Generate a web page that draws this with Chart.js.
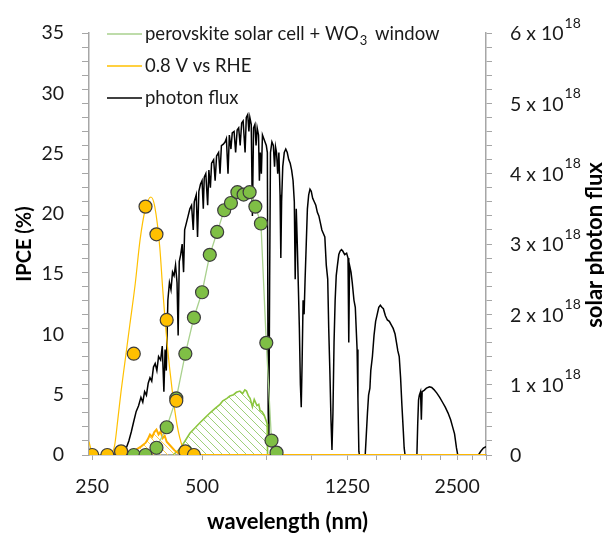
<!DOCTYPE html>
<html>
<head>
<meta charset="utf-8">
<script src="https://cdn.jsdelivr.net/npm/chart.js@4.4.1/dist/chart.umd.min.js"></script>
<style>
  html, body { margin: 0; padding: 0; background: #fff; }
  #wrap { width: 604px; height: 535px; }
</style>
</head>
<body>
<div id="wrap"><canvas id="chart" width="604" height="535"></canvas></div>
<script>
// x axis (nm, log scale)
const xTickValues = [250, 500, 750, 1000, 1250, 1500, 1750, 2000, 2250, 2500, 2750, 3000];
const xLabelValues = [250, 500, 1250, 2500];
const ipceTickLabels = [0, 5, 10, 15, 20, 25, 30, 35];
const fluxTickLabels = [0, 1, 2, 3, 4, 5, 6];

// perovskite solar cell + WO3 window (IPCE %)
const pvWavelengths = [300, 325, 350, 375, 400, 425, 450, 475, 500, 525, 550, 575, 600, 625, 650, 675, 700, 725, 750, 775, 800];
const pvIPCE = [0, 0, 0, 0.6, 2.3, 4.7, 8.4, 11.4, 13.5, 16.6, 18.5, 20.3, 20.9, 21.8, 21.6, 21.8, 20.6, 19.2, 9.3, 1.2, 0.2];

// 0.8 V vs RHE (IPCE %) measured points
const rheWavelengths = [250, 275, 300, 325, 350, 375, 400, 425, 450, 475];
const rheIPCE = [0, 0, 0.3, 8.4, 20.6, 18.3, 11.2, 4.5, 0.3, 0];

// 0.8 V vs RHE smooth curve
const rheFitWavelengths = [245, 250, 258, 280, 288, 294, 300, 307, 317, 328, 338, 349, 362, 371, 383, 390, 401, 414, 427, 443, 460, 3000];
const rheFitIPCE = [1.1, 0.2, 0, 0, 0.8, 3.0, 5.3, 7.6, 10.8, 14.2, 17.8, 20.3, 21.4, 20.6, 17.2, 13.8, 9.3, 5.4, 2.5, 0.6, 0, 0];

// hatched areas (IPCE x flux, left axis units)
const pvAreaWavelengths = [416, 435, 450, 463, 480, 494, 510, 526, 545, 560, 570, 585, 596, 610, 621, 635, 646, 655, 662, 670, 677, 687, 695, 707, 715, 721, 730, 740, 750, 754, 756];
const pvArea = [0, 0.5, 1.2, 1.8, 2.3, 2.7, 3.1, 3.5, 3.9, 4.2, 4.5, 4.7, 4.9, 5.0, 5.2, 5.3, 5.1, 5.4, 5.3, 4.9, 4.7, 4.0, 4.6, 4.1, 4.2, 3.7, 3.6, 3.3, 2.8, 2.6, 0];
const rheAreaWavelengths = [300, 310, 320, 330, 340, 350, 355, 360, 365, 370, 375, 380, 385, 390, 395, 400, 410, 420, 430, 440, 450, 3000];
const rheArea = [0, 0.05, 0.25, 0.45, 0.7, 1.0, 1.3, 1.7, 1.5, 1.9, 2.1, 1.7, 1.95, 1.4, 1.6, 1.1, 0.75, 0.4, 0.15, 0.05, 0, 0];

// photon flux (x 10^18)
const fluxWavelengths = [300, 305, 310, 315, 320, 325, 330, 335, 340, 344, 348, 352, 356, 360, 364, 368, 372, 376, 380, 385, 389, 393, 396, 399,
  403, 407, 411, 415, 419, 423, 427, 430, 433, 437, 441, 445, 448, 453, 458, 463, 468, 473, 476, 482, 486, 490, 495, 500, 504, 507, 512, 518,
  522, 527, 531, 538, 543, 548, 555, 560, 565, 572, 578, 583, 589, 594, 600, 605, 612, 618, 624, 630, 636, 642, 648, 656, 661, 667, 672, 676,
  682, 687, 692, 698, 703, 708, 714, 718, 722, 727, 732, 738, 744, 750, 755, 759, 762, 766, 770, 777, 784, 790, 795, 800, 806, 812, 818, 822,
  826, 832, 840, 848, 856, 864, 872, 880, 888, 895, 900, 906, 912, 918, 924, 930, 935, 940, 946, 952, 958, 965, 972, 980, 988, 996, 1005,
  1015, 1025, 1035, 1045, 1055, 1065, 1075, 1085, 1095, 1105, 1112, 1120, 1128, 1135, 1142, 1150, 1158, 1166, 1175, 1185, 1195, 1205, 1215,
  1230, 1245, 1256, 1262, 1268, 1280, 1290, 1304, 1315, 1330, 1337, 1345, 1350, 1400, 1410, 1420, 1430, 1442, 1450, 1465, 1480, 1495, 1510,
  1525, 1540, 1555, 1570, 1590, 1610, 1630, 1650, 1670, 1690, 1705, 1720, 1735, 1750, 1765, 1780, 1790, 1800, 1940, 1950, 1960, 1970, 1985,
  1995, 2005, 2030, 2060, 2100, 2130, 2160, 2200, 2240, 2280, 2320, 2360, 2400, 2430, 2460, 2490, 2510, 2860, 2900, 2950, 3000];
const photonFlux = [0, 0.03, 0.1, 0.2, 0.33, 0.48, 0.62, 0.7, 0.82, 0.75, 0.9, 0.85, 1.02, 1.1, 1.05, 1.25, 1.3, 1.2, 1.4, 1.35, 1.55, 0.9, 1.5, 1.2,
  2.2, 2.45, 2.35, 2.6, 2.55, 2.7, 2.45, 1.7, 2.75, 2.85, 3.0, 2.6, 3.2, 3.3, 3.4, 3.5, 3.55, 3.2, 3.6, 3.7, 3.1, 3.75, 3.85, 3.9, 3.5, 3.95, 4.0, 3.55,
  4.05, 3.8, 4.15, 4.2, 3.9, 4.25, 4.3, 4.0, 4.4, 4.42, 4.45, 4.5, 4.0, 4.55, 4.35, 4.58, 4.6, 4.3, 4.62, 4.65, 4.4, 4.72, 4.75, 4.3, 4.8, 4.84, 4.6, 4.8,
  4.7, 3.4, 4.65, 4.7, 4.4, 4.65, 4.55, 3.9, 4.3, 4.0, 4.55, 4.5, 4.45, 4.4, 4.3, 0.6, 0.25, 2.5, 4.3, 4.45, 4.4, 4.1, 4.38, 4.3, 4.0, 4.3, 3.7, 2.8,
  3.6, 4.1, 4.3, 4.35, 4.3, 4.2, 4.15, 4.05, 3.9, 3.6, 2.5, 3.5, 3.0, 2.4, 1.8, 1.0, 0.68, 1.3, 2.2, 2.0, 2.5, 3.0, 3.5, 3.7, 3.78, 3.75, 3.65,
  3.6, 3.55, 3.45, 3.4, 3.3, 3.2, 3.15, 3.1, 2.7, 2.5, 1.8, 1.2, 0.5, 0.07, 0.6, 1.6, 2.2, 2.55, 2.7, 2.85, 2.9, 2.92, 2.9,
  2.85, 2.87, 2.8, 1.6, 2.7, 2.6, 2.45, 2.2, 2.1, 1.5, 0.8, 0.05, 0, 0, 0.3, 0.6, 0.85, 0.95, 1.2, 1.4, 1.7, 1.9, 2.0,
  2.1, 2.13, 2.1, 2.08, 1.98, 1.92, 1.9, 1.85, 1.8, 1.72, 1.6, 1.48, 1.4, 1.1, 0.7, 0.35, 0.1, 0, 0, 0.45, 0.78, 0.85, 0.9,
  0.5, 0.9, 0.92, 0.95, 0.97, 0.96, 0.93, 0.88, 0.82, 0.75, 0.68, 0.6, 0.5, 0.4, 0.3, 0.1, 0, 0, 0.05, 0.1, 0.12];

const pts = (xs, ys) => xs.map((x, i) => ({ x: x, y: ys[i] }));
const near = (a, b) => Math.abs(a - b) < 1e-6;
const isIpceLabel = v => ipceTickLabels.some(l => near(l, v));
const isIpceMark = v => near(v * 30 / 35, Math.round(v * 30 / 35));

const canvas = document.getElementById('chart');
const mainCtx = canvas.getContext('2d');

function hatch(color, size) {
  const c = document.createElement('canvas');
  c.width = size; c.height = size;
  const g = c.getContext('2d');
  g.strokeStyle = color;
  g.lineWidth = 1;
  g.beginPath();
  g.moveTo(-1, -1); g.lineTo(size + 1, size + 1);
  g.moveTo(-1, size - 1); g.lineTo(1, size + 1);
  g.moveTo(size - 1, -1); g.lineTo(size + 1, 1);
  g.stroke();
  return mainCtx.createPattern(c, 'repeat');
}

const textColor = '#1a1a1a';
const axisColor = '#a6a6a6';

// legend, right axis labels with superscripts and right title
const extras = {
  id: 'extras',
  afterDraw(chart) {
    const ctx = chart.ctx;
    const y2 = chart.scales.y2;
    ctx.save();
    ctx.textBaseline = 'middle';
    ctx.textAlign = 'left';
    ctx.fillStyle = textColor;
    fluxTickLabels.forEach(v => {
      const py = y2.getPixelForValue(v);
      ctx.font = '19.5px Lato';
      if (v === 0) {
        ctx.fillText('0', 510, py + 1);
        return;
      }
      const base = v + ' x 10';
      ctx.fillText(base, 510, py + 1);
      const w = ctx.measureText(base).width;
      ctx.font = '14px Lato';
      ctx.fillText('18', 510 + w + 1, py - 10);
    });

    // right axis title
    ctx.save();
    ctx.translate(595, 245);
    ctx.rotate(-Math.PI / 2);
    ctx.textAlign = 'center';
    ctx.font = 'bold 22px Lato';
    ctx.fillStyle = '#000';
    ctx.fillText('solar photon flux', 0, 0);
    ctx.restore();

    // legend
    const rows = [
      { color: '#a9d18e', y: 34 },
      { color: '#ffc000', y: 66 },
      { color: '#000000', y: 98 }
    ];
    rows.forEach(r => {
      ctx.strokeStyle = r.color;
      ctx.lineWidth = 1.5;
      ctx.beginPath();
      ctx.moveTo(107, r.y);
      ctx.lineTo(142, r.y);
      ctx.stroke();
    });
    ctx.fillStyle = textColor;
    ctx.font = '18.5px Lato';
    const t = 'perovskite solar cell + WO';
    ctx.fillText(t, 145, 34);
    let x = 145 + ctx.measureText(t).width + 1;
    ctx.font = '13px Lato';
    ctx.fillText('3', x, 41);
    x += ctx.measureText('3').width;
    ctx.font = '18.5px Lato';
    ctx.fillText(' window', x + 3, 34);
    ctx.fillText('0.8 V vs RHE', 145, 66);
    ctx.fillText('photon flux', 145, 98);
    ctx.restore();
  }
};

Chart.defaults.font.family = 'Lato';

new Chart(canvas, {
  type: 'line',
  data: {
    datasets: [
      {
        label: '0.8 V vs RHE points',
        data: pts(rheWavelengths, rheIPCE),
        showLine: false,
        pointRadius: 6.5,
        pointBackgroundColor: '#ffc000',
        pointBorderColor: '#3c3c3c',
        pointBorderWidth: 1.2,
        yAxisID: 'y',
        order: 0
      },
      {
        label: 'perovskite solar cell + WO3 window',
        data: pts(pvWavelengths, pvIPCE),
        borderColor: '#a9d18e',
        borderWidth: 1.3,
        pointRadius: 6.5,
        pointBackgroundColor: '#7fbf45',
        pointBorderColor: '#3c3c3c',
        pointBorderWidth: 1.2,
        yAxisID: 'y',
        order: 1
      },
      {
        label: '0.8 V vs RHE',
        data: pts(rheFitWavelengths, rheFitIPCE),
        borderColor: '#ffc000',
        borderWidth: 1.2,
        pointRadius: 0,
        cubicInterpolationMode: 'monotone',
        yAxisID: 'y',
        order: 2
      },
      {
        label: 'rhe area',
        data: pts(rheAreaWavelengths, rheArea),
        borderColor: '#ffb000',
        borderWidth: 2,
        pointRadius: 0,
        fill: 'origin',
        backgroundColor: hatch('#ffd24d', 7),
        yAxisID: 'y',
        order: 3
      },
      {
        label: 'pv area',
        data: pts(pvAreaWavelengths, pvArea),
        borderColor: '#8cc63f',
        borderWidth: 1.6,
        pointRadius: 0,
        fill: 'origin',
        backgroundColor: hatch('#9fd07a', 8),
        yAxisID: 'y',
        order: 4
      },
      {
        label: 'photon flux',
        data: pts(fluxWavelengths, photonFlux),
        borderColor: '#000000',
        borderWidth: 1.5,
        pointRadius: 0,
        yAxisID: 'y2',
        order: 5
      }
    ]
  },
  options: {
    responsive: false,
    animation: false,
    events: [],
    layout: { padding: { top: 33, left: 0, right: 0, bottom: 0 } },
    plugins: { legend: { display: false }, tooltip: { enabled: false } },
    scales: {
      x: {
        type: 'logarithmic',
        min: 245,
        max: 3000,
        afterBuildTicks: s => { s.ticks = xTickValues.map(v => ({ value: v })); },
        afterFit: s => { s.height = 80; },
        ticks: {
          callback: v => xLabelValues.includes(v) ? String(v) : '',
          autoSkip: false,
          maxRotation: 0,
          font: { size: 19.5 },
          color: textColor,
          padding: 15
        },
        grid: { drawOnChartArea: false, tickLength: 5, color: axisColor },
        border: { color: axisColor, width: 1.5 },
        title: {
          display: true,
          text: 'wavelength (nm)',
          font: { size: 22, weight: 'bold' },
          color: '#000',
          padding: { top: 0, bottom: 0 }
        }
      },
      y: {
        position: 'left',
        min: 0,
        max: 35,
        afterBuildTicks: s => {
          const vals = [];
          for (let i = 0; i <= 30; i++) vals.push(i * 35 / 30);
          ipceTickLabels.forEach(v => { if (!vals.some(u => near(u, v))) vals.push(v); });
          vals.sort((a, b) => a - b);
          s.ticks = vals.map(v => ({ value: v }));
        },
        afterFit: s => { s.width = 89; },
        ticks: {
          callback: v => isIpceLabel(v) ? String(Math.round(v)) : '',
          autoSkip: false,
          font: { size: 19.5 },
          color: textColor,
          padding: 18
        },
        grid: {
          drawOnChartArea: false,
          tickLength: 7,
          color: c => (c.tick && !isIpceMark(c.tick.value)) ? 'rgba(0,0,0,0)' : axisColor
        },
        border: { color: axisColor, width: 1.5 },
        title: {
          display: true,
          text: 'IPCE (%)',
          font: { size: 20, weight: 'bold' },
          color: '#000',
          padding: { top: 13, bottom: 0 }
        }
      },
      y2: {
        position: 'right',
        min: 0,
        max: 6,
        afterFit: s => { s.width = 118; },
        ticks: { stepSize: 0.2, callback: () => '', autoSkip: false },
        grid: { drawOnChartArea: false, tickLength: 6, color: axisColor },
        border: { color: axisColor, width: 1.5 }
      }
    }
  },
  plugins: [extras]
});
</script>
</body>
</html>
